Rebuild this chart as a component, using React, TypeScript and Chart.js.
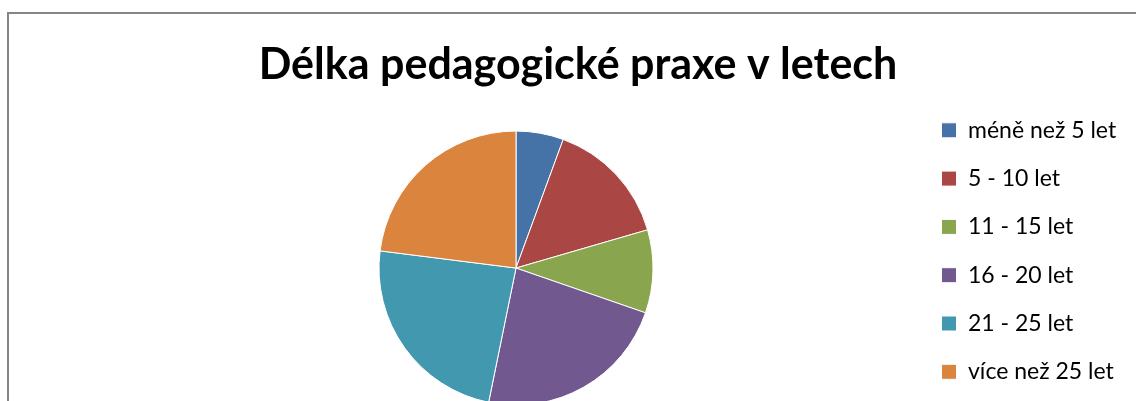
import React, { useEffect, useRef } from "react";
import { Chart, registerables } from "chart.js";

Chart.register(...registerables);

const titleText = "Délka pedagogické praxe v letech";
const categories = [
  "méně než 5 let",
  "5 - 10 let",
  "11 - 15 let",
  "16 - 20 let",
  "21 - 25 let",
  "více než 25 let",
];
const shares = [5.6, 14.9, 9.8, 22.9, 23.8, 23.0];
const sliceColors = ["#4572A7", "#AA4643", "#89A54E", "#71588F", "#4198AF", "#DB843D"];

// The legend box is kept narrow for layout (so the title stays centred over the
// whole frame), then widened after layout so its labels are not clipped.
const widenLegend = {
  id: "widenLegend",
  afterLayout(chart: any) {
    const lg = chart.legend;
    if (lg) {
      lg.right = chart.width;
      lg.width = lg.right - lg.left;
    }
  },
};

export default function App() {
  const ref = useRef<HTMLCanvasElement | null>(null);

  useEffect(() => {
    if (!ref.current) return;
    const chart = new Chart(ref.current, {
      type: "pie",
      data: {
        labels: categories,
        datasets: [
          {
            data: shares,
            backgroundColor: sliceColors,
            borderColor: "#ffffff",
            borderWidth: 1,
            radius: 137,
          } as any,
        ],
      },
      options: {
        animation: false,
        responsive: false,
        layout: { padding: { left: 106.8, right: 108.8, top: 0, bottom: 11.4 } },
        plugins: {
          tooltip: { enabled: false },
          title: {
            display: true,
            text: titleText,
            color: "#000000",
            font: { family: "Lato", size: 43, weight: "bold" },
            padding: { top: 25.5, bottom: 2.4 },
          },
          legend: {
            display: true,
            position: "right",
            align: "start",
            fullSize: false,
            maxWidth: 124,
            labels: {
              color: "#000000",
              font: { family: "Lato", size: 23 },
              boxWidth: 15,
              boxHeight: 15,
              padding: 25.3,
            },
          } as any,
        },
      },
      plugins: [widenLegend],
    });
    return () => chart.destroy();
  }, []);

  return (
    <div style={{ position: "fixed", left: 0, top: 0, width: 1136, height: 401, overflow: "hidden", background: "#fff" }}>
      <div
        style={{
          position: "absolute",
          left: 7,
          top: 12,
          width: 1200,
          height: 520,
          border: "2px solid #868686",
          boxSizing: "border-box",
          background: "#fff",
        }}
      >
        <canvas ref={ref} width={1140} height={440} style={{ position: "absolute", left: 0, top: 0, width: 1140, height: 440 }} />
      </div>
    </div>
  );
}
